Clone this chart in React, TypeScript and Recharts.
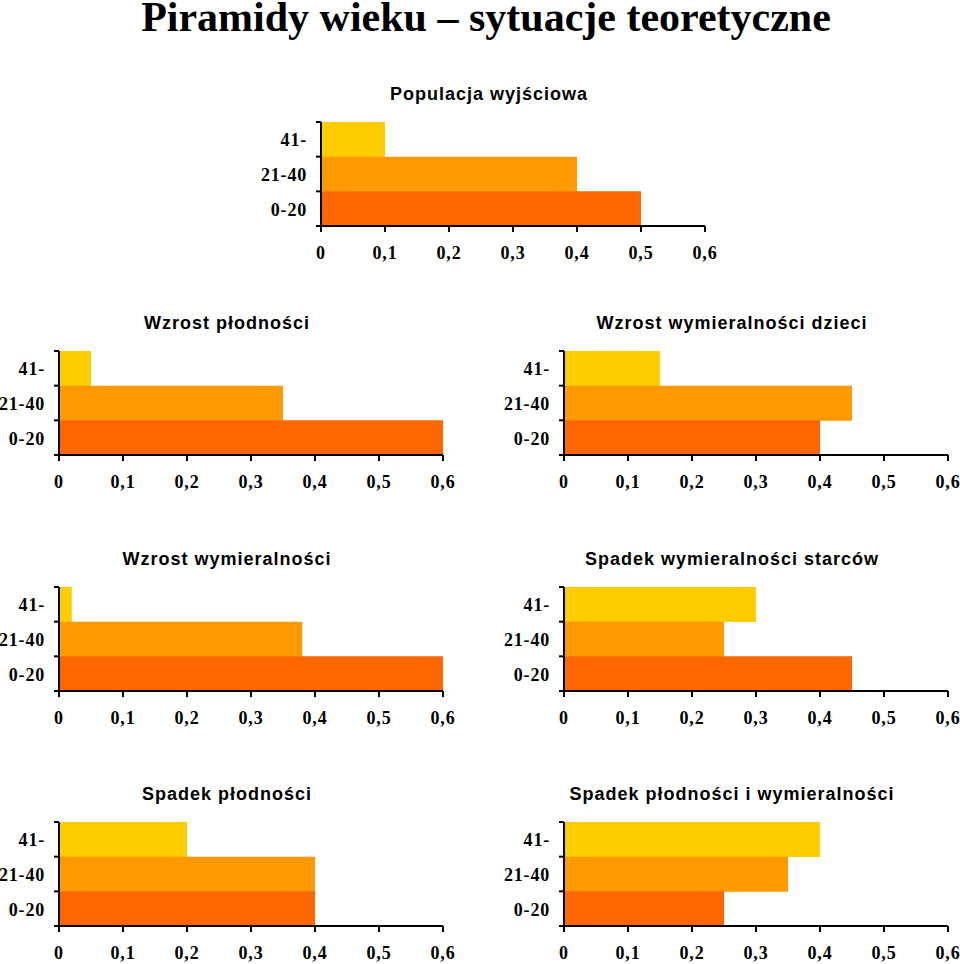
import React from 'react';
import { BarChart, Bar, XAxis, YAxis, Cell } from 'recharts';

const ageGroups = ['41-', '21-40', '0-20'];
const barColors = ['#FFCC00', '#FF9900', '#FF6600'];
const xTicks = [0, 0.1, 0.2, 0.3, 0.4, 0.5, 0.6];

const mainTitle = 'Piramidy wieku – sytuacje teoretyczne';

const populacjaWyjsciowa = [0.1, 0.4, 0.5];
const wzrostPlodnosci = [0.05, 0.35, 0.6];
const wzrostWymieralnosciDzieci = [0.15, 0.45, 0.4];
const wzrostWymieralnosci = [0.02, 0.38, 0.6];
const spadekWymieralnosciStarcow = [0.3, 0.25, 0.45];
const spadekPlodnosci = [0.2, 0.4, 0.4];
const spadekPlodnosciIWymieralnosci = [0.4, 0.35, 0.25];

const panels = [
  { title: 'Populacja wyjściowa', values: populacjaWyjsciowa, left: 321, top: 122 },
  { title: 'Wzrost płodności', values: wzrostPlodnosci, left: 59, top: 351 },
  { title: 'Wzrost wymieralności dzieci', values: wzrostWymieralnosciDzieci, left: 564, top: 351 },
  { title: 'Wzrost wymieralności', values: wzrostWymieralnosci, left: 59, top: 587 },
  { title: 'Spadek wymieralności starców', values: spadekWymieralnosciStarcow, left: 564, top: 587 },
  { title: 'Spadek płodności', values: spadekPlodnosci, left: 59, top: 822 },
  { title: 'Spadek płodności i wymieralności', values: spadekPlodnosciIWymieralnosci, left: 564, top: 822 },
];

const PLOT_W = 384;
const PLOT_H = 104;
const Y_W = 70;
const M_TOP = 40;
const M_RIGHT = 16;
const X_H = 40;
const Y_TICK = 5;
const Y_MARGIN = 9;

const serif = "'Liberation Serif', 'Times New Roman', serif";
const sans = "'Liberation Sans', Arial, sans-serif";

const YTick = (props: any) => {
  const { x, y, payload, index } = props;
  const axisX = x + Y_TICK + Y_MARGIN;
  const half = payload && payload.offset ? payload.offset : PLOT_H / ageGroups.length / 2;
  return (
    <g>
      <line x1={axisX - Y_TICK} x2={axisX} y1={y - half} y2={y - half} stroke="#000" strokeWidth={2} />
      {index === ageGroups.length - 1 && (
        <line x1={axisX - Y_TICK} x2={axisX} y1={y + half} y2={y + half} stroke="#000" strokeWidth={2} />
      )}
      <text
        x={x}
        y={y}
        dy={7}
        textAnchor="end"
        fill="#000"
        fontFamily={serif}
        fontWeight="bold"
        fontSize={18}
        letterSpacing={0.8}
      >
        {payload.value}
      </text>
    </g>
  );
};

const fmt = (v: number) => String(v).replace('.', ',');

function Pyramid({ title, values, left, top }: { title: string; values: number[]; left: number; top: number }) {
  const data = ageGroups.map((g, i) => ({ group: g, value: values[i] }));
  const width = Y_W + PLOT_W + M_RIGHT;
  const height = M_TOP + PLOT_H + X_H;
  return (
    <div style={{ position: 'absolute', left: left - Y_W, top: top - M_TOP, width, height }}>
      <BarChart
        width={width}
        height={height}
        data={data}
        layout="vertical"
        margin={{ top: M_TOP, right: M_RIGHT, left: 0, bottom: 0 }}
        barCategoryGap={0}
      >
        <XAxis
          type="number"
          domain={[0, 0.6]}
          ticks={xTicks}
          interval={0}
          height={X_H}
          stroke="#000"
          strokeWidth={2}
          tickSize={6}
          tickMargin={14}
          tickFormatter={fmt}
          tick={{ fill: '#000', fontFamily: serif, fontWeight: 'bold', fontSize: 18, letterSpacing: 0.8 }}
        />
        <YAxis
          type="category"
          dataKey="group"
          width={Y_W}
          stroke="#000"
          strokeWidth={2}
          tickLine={false}
          tickSize={Y_TICK}
          tickMargin={Y_MARGIN}
          interval={0}
          tick={<YTick />}
        />
        <Bar dataKey="value" isAnimationActive={false}>
          {data.map((d, i) => (
            <Cell key={d.group} fill={barColors[i]} />
          ))}
        </Bar>
      </BarChart>
      <svg
        width={width}
        height={M_TOP}
        style={{ position: 'absolute', left: 0, top: 0, overflow: 'visible', pointerEvents: 'none' }}
      >
        <text
          x={Y_W + PLOT_W / 2 - 24}
          y={M_TOP - 22}
          textAnchor="middle"
          fontFamily={sans}
          fontWeight="bold"
          fontSize={18}
          letterSpacing={1}
          fill="#000"
        >
          {title}
        </text>
      </svg>
    </div>
  );
}

export default function App() {
  return (
    <div
      style={{
        position: 'absolute',
        left: 0,
        top: 0,
        width: 960,
        height: 964,
        overflow: 'hidden',
        background: '#fff',
      }}
    >
      <svg width={960} height={45} style={{ position: 'absolute', left: 0, top: 0, overflow: 'visible' }}>
        <text x={486} y={31} textAnchor="middle" fontFamily={serif} fontWeight="bold" fontSize={42} fill="#000">
          {mainTitle}
        </text>
      </svg>
      {panels.map((p) => (
        <Pyramid key={p.title} title={p.title} values={p.values} left={p.left} top={p.top} />
      ))}
    </div>
  );
}
